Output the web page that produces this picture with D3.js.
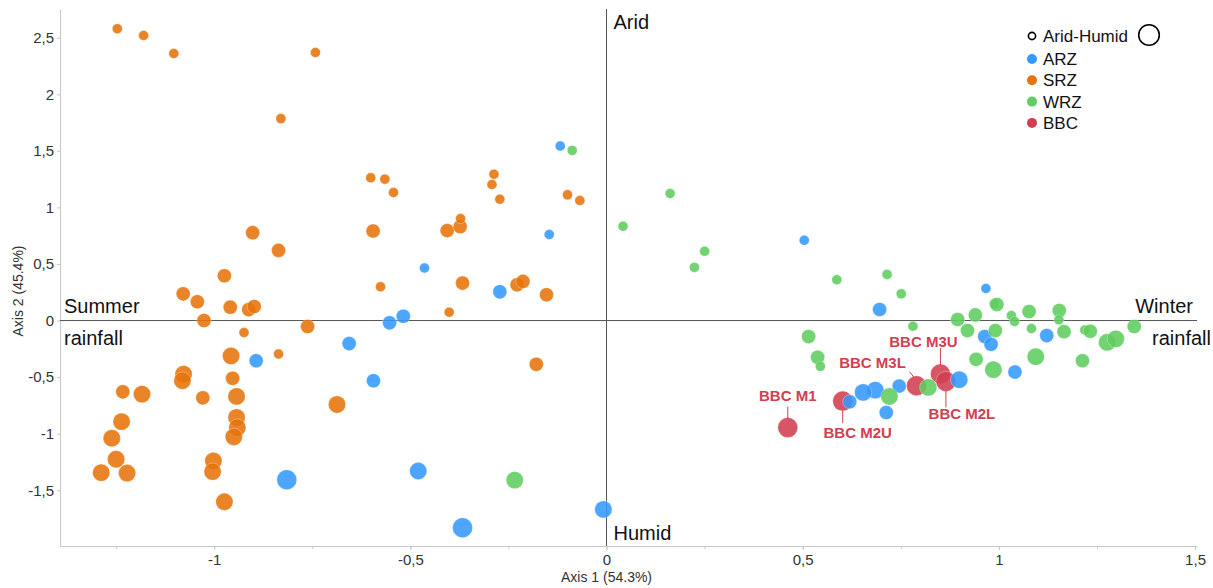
<!DOCTYPE html>
<html>
<head>
<meta charset="utf-8">
<script src="https://cdn.jsdelivr.net/npm/d3@7"></script>
<style>
  body { margin: 0; background: #fff; font-family: Arial, "Liberation Sans", sans-serif; }
  .tick text { fill: #333; font-size: 15px; }
  .domain, .tick line { stroke: #c8c8c8; }
  .quadrant { font-size: 20px; fill: #111; }
  .bbc-label { font-size: 15px; font-weight: bold; fill: #d13f50; }
  .legend text { font-size: 17px; fill: #111; }
</style>
</head>
<body>
<script>
(function () {

  // Scores: [axis 1, axis 2, Arid-Humid size class]
  let arz = [
    [-0.118, 1.543, 1], [-0.146, 0.76, 1], [-0.464, 0.464, 1], [-0.272, 0.254, 2],
    [-0.518, 0.038, 2], [-0.553, -0.02, 2], [-0.656, -0.204, 2], [-0.893, -0.355, 2],
    [-0.594, -0.532, 2], [-0.815, -1.407, 4], [-0.48, -1.33, 3], [-0.367, -1.832, 4],
    [-0.008, -1.67, 3], [0.504, 0.709, 1], [0.696, 0.098, 2], [0.967, 0.284, 1],
    [1.122, -0.133, 2], [0.964, -0.142, 2], [0.98, -0.21, 2], [1.041, -0.455, 2],
    [0.899, -0.523, 3], [0.746, -0.579, 2], [0.685, -0.615, 3], [0.654, -0.635, 3],
    [0.62, -0.718, 2], [0.713, -0.813, 2]
  ];

  let srz = [
    [-1.247, 2.58, 1], [-1.18, 2.52, 1], [-1.103, 2.36, 1], [-0.742, 2.37, 1],
    [-0.83, 1.785, 1], [-0.902, 0.777, 2], [-0.836, 0.62, 2], [-0.974, 0.396, 2],
    [-1.079, 0.236, 2], [-1.043, 0.166, 2], [-0.959, 0.118, 2], [-0.912, 0.097, 2],
    [-0.898, 0.124, 2], [-1.026, 0.0, 2], [-0.762, -0.053, 2], [-0.924, -0.106, 1],
    [-0.957, -0.313, 3], [-0.836, -0.295, 1], [-1.078, -0.473, 3], [-1.081, -0.532, 3],
    [-0.953, -0.511, 2], [-1.233, -0.63, 2], [-1.184, -0.65, 3], [-1.029, -0.683, 2],
    [-0.943, -0.671, 3], [-0.687, -0.742, 3], [-1.236, -0.893, 3], [-0.943, -0.857, 3],
    [-0.941, -0.946, 3], [-0.95, -1.028, 3], [-1.261, -1.04, 3], [-1.25, -1.226, 3],
    [-1.288, -1.345, 3], [-1.222, -1.348, 3], [-1.002, -1.241, 3], [-1.004, -1.336, 3],
    [-0.974, -1.602, 3], [-0.601, 1.262, 1], [-0.565, 1.25, 1], [-0.543, 1.132, 1],
    [-0.287, 1.294, 1], [-0.292, 1.203, 1], [-0.272, 1.073, 1], [-0.0995, 1.111, 1],
    [-0.068, 1.061, 1], [-0.595, 0.792, 2], [-0.406, 0.795, 2], [-0.373, 0.83, 2],
    [-0.372, 0.901, 1], [-0.576, 0.299, 1], [-0.367, 0.331, 2], [-0.228, 0.316, 2],
    [-0.213, 0.346, 2], [-0.153, 0.228, 2], [-0.401, 0.074, 1], [-0.179, -0.387, 2]
  ];

  let wrz = [
    [-0.0875, 1.504, 1], [0.162, 1.123, 1], [0.042, 0.833, 1], [0.25, 0.612, 1],
    [0.224, 0.47, 1], [0.587, 0.361, 1], [0.715, 0.408, 1], [0.751, 0.236, 1],
    [0.988, 0.148, 1], [0.995, 0.142, 2], [0.94, 0.05, 2], [0.895, 0.009, 2],
    [1.032, 0.044, 1], [1.077, 0.08, 2], [1.154, 0.089, 2], [1.04, -0.009, 1],
    [1.153, 0.006, 1], [0.92, -0.089, 2], [0.991, -0.089, 2], [0.781, -0.05, 1],
    [1.083, -0.071, 1], [1.166, -0.098, 2], [1.219, -0.083, 1], [1.233, -0.095, 2],
    [1.345, -0.053, 2], [1.276, -0.192, 3], [1.298, -0.162, 3], [0.515, -0.142, 2],
    [0.538, -0.325, 2], [0.545, -0.405, 1], [0.942, -0.343, 2], [1.094, -0.319, 3],
    [1.213, -0.355, 2], [0.986, -0.434, 3], [0.82, -0.591, 3], [0.721, -0.671, 3],
    [-0.234, -1.41, 3]
  ];

  let bbc = [
    [0.462, -0.946, 4], [0.602, -0.712, 4], [0.79, -0.576, 4],
    [0.851, -0.473, 4], [0.865, -0.538, 4]
  ];
  let bbcNames = ['BBC M1', 'BBC M2U', 'BBC M3L', 'BBC M3U', 'BBC M2L'];

  let groups = ['ARZ', 'SRZ', 'WRZ', 'BBC'];
  let xTicks = [-1, -0.5, 0, 0.5, 1, 1.5];
  let yTicks = [-1.5, -1, -0.5, 0, 0.5, 1, 1.5, 2, 2.5];

  function go() {
    let width = 1213, height = 588;
    let left = 60, right = 1197, top = 9, bottom = 546;

    let colors = { ARZ: '#3399ff', SRZ: '#e6740a', WRZ: '#5fcd5f', BBC: '#d13f50' };

    let x = d3.scaleLinear().domain([-1.393, 1.505]).range([left, right]);
    let y = d3.scaleLinear().domain([-1.993, 2.754]).range([bottom, top]);
    let r = d3.scaleSqrt().domain([0, 4]).range([0, 10]);

    // comma decimals and a plain hyphen for negatives, as in the original
    let locale = d3.formatLocale({ decimal: ',', thousands: '.', grouping: [3], currency: ['', ''], minus: '-' });
    let fmt = locale.format('~g');

    let svg = d3.select('body').append('svg')
        .attr('width', width)
        .attr('height', height);

    // axes
    svg.append('g')
      .attr('transform', 'translate(0,' + bottom + ')')
      .call(d3.axisBottom(x).tickValues(d3.range(-1.25, 1.51, 0.25)).tickSize(3).tickFormat(''))
      .call(g => g.selectAll('.domain').remove());
    svg.append('g')
      .attr('transform', 'translate(0,' + bottom + ')')
      .call(d3.axisBottom(x).tickValues(xTicks).tickSize(4).tickSizeOuter(0).tickFormat(fmt).tickPadding(4));

    svg.append('g')
      .attr('transform', 'translate(' + left + ',0)')
      .call(d3.axisLeft(y).tickValues(yTicks).tickSize(3).tickSizeOuter(0).tickFormat(fmt).tickPadding(3));

    svg.selectAll('.tick text').style('font-family', 'Arial, "Liberation Sans", sans-serif');

    // cross lines through the origin
    svg.append('line')
      .attr('x1', left).attr('x2', right)
      .attr('y1', y(0)).attr('y2', y(0))
      .attr('stroke', '#555');
    svg.append('line')
      .attr('x1', x(0)).attr('x2', x(0))
      .attr('y1', top).attr('y2', bottom)
      .attr('stroke', '#555');

    // axis titles
    svg.append('text')
      .attr('x', x(0)).attr('y', 582)
      .attr('text-anchor', 'middle')
      .style('font-size', '14px').style('fill', '#333')
      .text('Axis 1 (54.3%)');
    svg.append('text')
      .attr('transform', 'translate(23,' + 291 + ') rotate(-90)')
      .attr('text-anchor', 'middle')
      .style('font-size', '14px').style('fill', '#333')
      .text('Axis 2 (45.4%)');

    // quadrant labels
    let q = svg.append('g').attr('class', 'quadrant');
    q.append('text').attr('x', x(0) + 7).attr('y', top + 20).text('Arid');
    q.append('text').attr('x', x(0) + 7).attr('y', bottom - 6).text('Humid');
    q.append('text').attr('x', left + 4).attr('y', y(0) - 8).text('Summer');
    q.append('text').attr('x', left + 4).attr('y', y(0) + 24).text('rainfall');
    q.append('text').attr('x', right - 4).attr('y', y(0) - 8).attr('text-anchor', 'end').text('Winter');
    q.append('text').attr('x', width - 2).attr('y', y(0) + 24).attr('text-anchor', 'end').text('rainfall');

    // points, BBC underneath like the original
    let layers = [['BBC', bbc], ['ARZ', arz], ['WRZ', wrz], ['SRZ', srz]];
    for (let [name, pts] of layers) {
      svg.append('g').attr('class', 'points ' + name)
        .selectAll('circle').data(pts).enter()
        .append('circle')
        .attr('cx', d => x(d[0]))
        .attr('cy', d => y(d[1]))
        .attr('r', d => r(d[2]))
        .attr('fill', colors[name])
        .attr('fill-opacity', 0.88)
        .attr('stroke', '#fff')
        .attr('stroke-opacity', 0.5)
        .attr('stroke-width', 0.6);
    }

    // BBC labels with leader lines (offsets in px from the point)
    let labelPlace = [
      { dx: 0,   dy: -27, l: [0, -9, 0, -21] },
      { dx: 15,  dy: 37,  l: [0, 9, 0, 22] },
      { dx: -44, dy: -18, l: [-7, -14, -3, -9] },
      { dx: -17, dy: -27, l: [0, -26, 0, -9] },
      { dx: 16,  dy: 38,  l: [0, 9, 0, 26] }
    ];
    let lab = svg.append('g').attr('class', 'bbc-labels');
    bbc.forEach(function (d, i) {
      let p = labelPlace[i], cx = x(d[0]), cy = y(d[1]);
      lab.append('line')
        .attr('x1', cx + p.l[0]).attr('y1', cy + p.l[1])
        .attr('x2', cx + p.l[2]).attr('y2', cy + p.l[3])
        .attr('stroke', colors.BBC).attr('stroke-width', 1);
      lab.append('text')
        .attr('class', 'bbc-label')
        .attr('x', cx + p.dx).attr('y', cy + p.dy)
        .attr('text-anchor', 'middle')
        .text(bbcNames[i]);
    });

    // legend
    let legend = svg.append('g').attr('class', 'legend');
    legend.append('circle').attr('cx', 1032).attr('cy', 36).attr('r', 3.6)
      .attr('fill', 'none').attr('stroke', '#000').attr('stroke-width', 1.6);
    legend.append('text').attr('x', 1043).attr('y', 42).text('Arid-Humid');
    legend.append('circle').attr('cx', 1149).attr('cy', 35).attr('r', 10.3)
      .attr('fill', 'none').attr('stroke', '#000').attr('stroke-width', 1.6);
    groups.forEach(function (g, i) {
      let cy = 59 + i * 21.3;
      legend.append('circle').attr('cx', 1032).attr('cy', cy).attr('r', 5).attr('fill', colors[g]);
      legend.append('text').attr('x', 1043).attr('y', cy + 6).text(g);
    });
  }

  document.addEventListener('DOMContentLoaded', go);

})();
</script>
</body>
</html>
